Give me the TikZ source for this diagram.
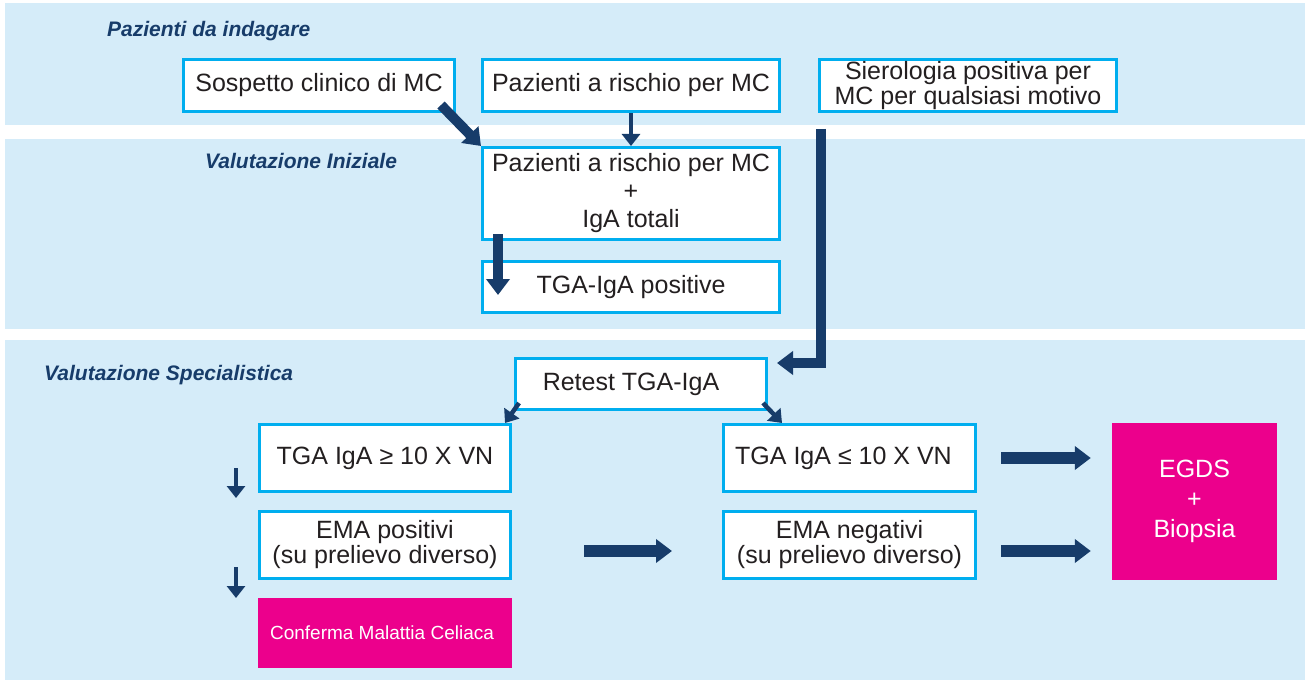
\documentclass[tikz,border=0pt]{standalone}
\usepackage{fontspec}
\setmainfont{Liberation Sans}
\usetikzlibrary{arrows.meta,calc}
\definecolor{bandc}{HTML}{D5ECF9}
\definecolor{navy}{HTML}{173C6A}
\definecolor{cyanb}{HTML}{00AEEF}
\definecolor{mag}{HTML}{EC008C}
\definecolor{txt}{HTML}{231F20}
\newcommand\boxfont{\fontsize{25}{28}\selectfont}
\newcommand\tightfont{\fontsize{25}{25}\selectfont}
\begin{document}
\begin{tikzpicture}[x=1pt,y=-1pt,
  wbox/.style={draw=cyanb, line width=3pt, fill=white, text=txt, align=center, inner sep=0pt, font=\boxfont},
  pbox/.style={fill=mag, text=white, align=center, inner sep=0pt},
  ttl/.style={anchor=base west, inner sep=0pt, text=navy, font=\bfseries\itshape\fontsize{21}{25}\selectfont},
  bigarr/.style={draw=navy, line width=10pt, -{Triangle[length=16pt,width=23pt]}},
  fatarr/.style={draw=navy, line width=12pt, -{Triangle[length=16pt,width=23pt]}},
  medarr/.style={draw=navy, line width=4.5pt, -{Triangle[length=12pt,width=18pt]}},
  smallarr/.style={draw=navy, line width=4.5pt, -{Triangle[length=12pt,width=18pt]}}
]
\fill[white] (0,0) rectangle (1310,682);
\useasboundingbox (0,0) rectangle (1310,682);
\fill[bandc] (5,3) rectangle (1305,125);
\fill[bandc] (5,139) rectangle (1305,329);
\fill[bandc] (5,340) rectangle (1305,680);

\node[ttl] (t1) at (107,37) {Pazienti da indagare};
\node[ttl] (t2) at (205,169) {Valutazione Iniziale};
\node[ttl] (t3) at (44,380) {Valutazione Specialistica};

\node[wbox, minimum width=271pt, minimum height=52pt] (sosp) at (319,85.5) {Sospetto clinico di MC};
\node[wbox, minimum width=297pt, minimum height=52pt] (paz) at (631,85.5) {Pazienti a rischio per MC};
\node[wbox, minimum width=297pt, minimum height=52pt, font=\tightfont] (sier) at (968,85.5) {Sierologia positiva per\\MC per qualsiasi motivo};
\node[wbox, minimum width=297pt, minimum height=92pt] (pazI) at (631,193.5) {Pazienti a rischio per MC\\+\\IgA totali};
\node[wbox, minimum width=297pt, minimum height=51pt] (tgapos) at (631,287) {TGA-IgA positive};
\node[wbox, minimum width=251pt, minimum height=51pt] (retest) at (641,384) {Retest TGA-IgA\hspace*{20pt}};
\node[wbox, minimum width=251pt, minimum height=67pt] (tgage) at (385,458) {TGA IgA ≥ 10 X VN};
\node[wbox, minimum width=251pt, minimum height=67pt, font=\tightfont] (emap) at (385,545) {EMA positivi\\(su prelievo diverso)};
\node[pbox, minimum width=254pt, minimum height=70pt, font=\fontsize{19}{21}\selectfont] (conf) at (385,633) {Conferma Malattia Celiaca\hspace*{6pt}};
\node[wbox, minimum width=252pt, minimum height=67pt] (tgale) at (849.5,458) {TGA IgA ≤ 10 X VN\hspace*{12pt}};
\node[wbox, minimum width=252pt, minimum height=67pt, font=\tightfont] (eman) at (849.5,545) {EMA negativi\\(su prelievo diverso)};
\node[pbox, minimum width=165pt, minimum height=157pt, font=\fontsize{25}{30}\selectfont] (egds) at (1194.5,501.5) {EGDS\\+\\Biopsia};

\draw[bigarr] ($(sosp.south east)+(-15,-8)$) -- (pazI.north west);
\draw[smallarr] (paz.south) -- (pazI.north);
\draw[bigarr] ($(pazI.south west)+(17,-7)$) -- ($(tgapos.west)+(17,8)$);
\draw[bigarr] ($(sier.south west)+(3,16)$) |- ($(retest.east)+(9,-21)$);
\draw[medarr] ($(retest.south west)+(5,-8)$) -- ($(tgage.north east)+(-7,0)$);
\draw[medarr] ($(retest.south east)+(-5,-8)$) -- ($(tgale.north west)+(60,0)$);
\draw[smallarr] ($(tgage.west)+(-22,10)$) -- ($(tgage.west)+(-22,40)$);
\draw[smallarr] ($(emap.west)+(-22,22)$) -- ($(emap.west)+(-22,53)$);
\draw[fatarr] ($(emap.east)+(72,6)$) -- ($(eman.west)+(-50,6)$);
\draw[fatarr] ($(tgale.east)+(24,0)$) -- ($(egds.west)+(-21,-43.5)$);
\draw[fatarr] ($(eman.east)+(24,6)$) -- ($(egds.west)+(-21,49.5)$);
\end{tikzpicture}
\end{document}
